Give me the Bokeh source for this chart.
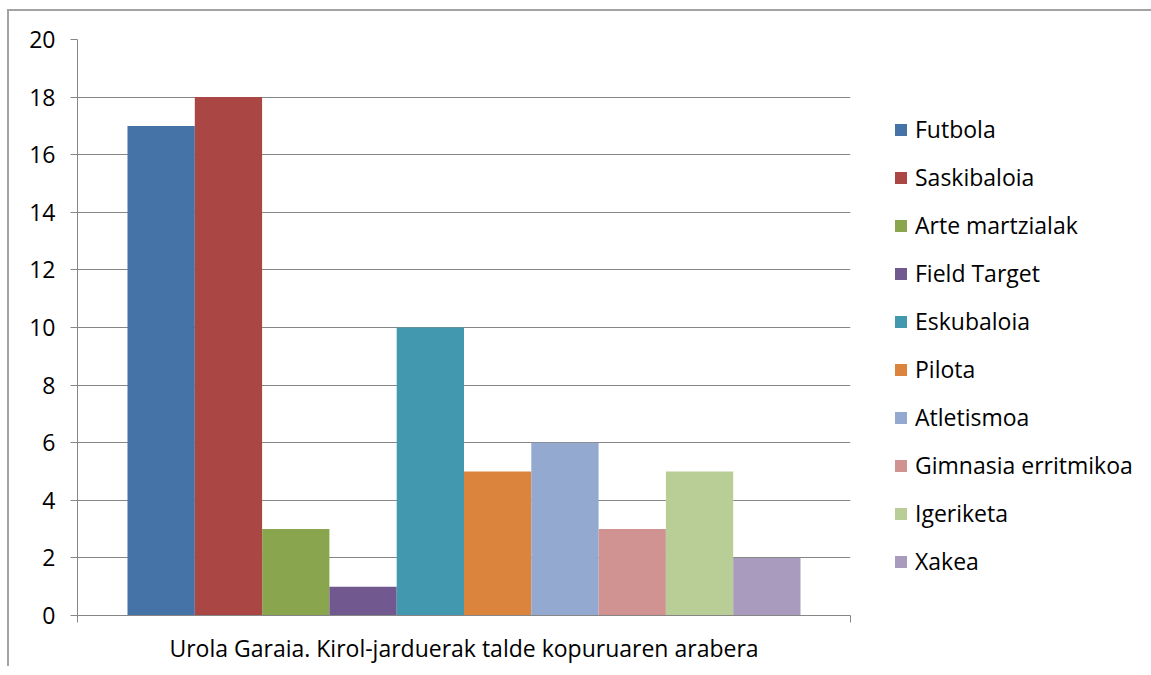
from bokeh.plotting import figure
from bokeh.models import Range1d, FixedTicker, Legend, LegendItem
from bokeh.embed import file_html
from bokeh.resources import INLINE

categories = ["Urola Garaia. Kirol-jarduerak talde kopuruaren arabera"]
series = ["Futbola", "Saskibaloia", "Arte martzialak", "Field Target", "Eskubaloia",
          "Pilota", "Atletismoa", "Gimnasia erritmikoa", "Igeriketa", "Xakea"]
values = [17, 18, 3, 1, 10, 5, 6, 3, 5, 2]
colors = ["#4572A7", "#AA4643", "#89A54E", "#71588F", "#4198AF",
          "#DB843D", "#93A9CF", "#D19392", "#B9CD96", "#A99BBD"]
y_ticks = [0, 2, 4, 6, 8, 10, 12, 14, 16, 18, 20]

FONT = "Open Sans"
FS = "23px"
GRID = "#868686"

p = figure(frame_width=773, frame_height=576, output_backend="svg", toolbar_location=None,
           x_range=Range1d(0, 1), y_range=Range1d(0, 20),
           min_border_left=68, min_border_top=28, min_border_right=290, min_border_bottom=50)
p.styles = {"margin-left": "7px", "margin-top": "9px",
            "border-left": "2px solid #a3a3a3", "border-top": "2px solid #a3a3a3"}
p.outline_line_color = None
p.background_fill_color = None
p.border_fill_color = None

n = len(series)
gap = 50 / 773
bw = (1 - 2 * gap) / n
items = []
for i, (s, v, c) in enumerate(zip(series, values, colors)):
    x = gap + bw * (i + 0.5)
    r = p.vbar(x=[x], top=[v], bottom=0, width=bw, fill_color=c, line_color=None)
    items.append(LegendItem(label=s, renderers=[r]))

# y axis
p.yaxis.ticker = FixedTicker(ticks=y_ticks)
p.yaxis.axis_line_color = GRID
p.yaxis.major_tick_line_color = GRID
p.yaxis.major_tick_out = 7
p.yaxis.major_tick_in = 0
p.yaxis.minor_tick_line_color = None
p.yaxis.major_label_standoff = 15
p.yaxis.major_label_text_font = FONT
p.yaxis.major_label_text_font_size = FS
p.yaxis.major_label_text_color = "#000000"

# x axis
p.xaxis.ticker = FixedTicker(ticks=[0.5], minor_ticks=[0, 1])
p.xaxis.major_label_overrides = {0.5: categories[0]}
p.xaxis.axis_line_color = GRID
p.xaxis.major_tick_line_color = None
p.xaxis.major_tick_out = 0
p.xaxis.major_tick_in = 0
p.xaxis.minor_tick_line_color = GRID
p.xaxis.minor_tick_out = 7
p.xaxis.minor_tick_in = 0
p.xaxis.major_label_standoff = 9
p.xaxis.major_label_text_font = FONT
p.xaxis.major_label_text_font_size = FS
p.xaxis.major_label_text_color = "#000000"

p.xgrid.grid_line_color = None
p.ygrid.grid_line_color = GRID
p.ygrid.ticker = FixedTicker(ticks=y_ticks)

legend = Legend(items=items, location=(43, 38), orientation="vertical")
legend.glyph_width = 15
legend.glyph_height = 15
legend.label_standoff = 7
legend.label_height = 32
legend.spacing = 16
legend.padding = 0
legend.margin = 0
legend.border_line_color = None
legend.background_fill_alpha = 0
legend.label_text_font = FONT
legend.label_text_font_size = FS
legend.label_text_color = "#000000"
p.add_layout(legend, "right")

open("out.html", "w").write(file_html(p, INLINE))
